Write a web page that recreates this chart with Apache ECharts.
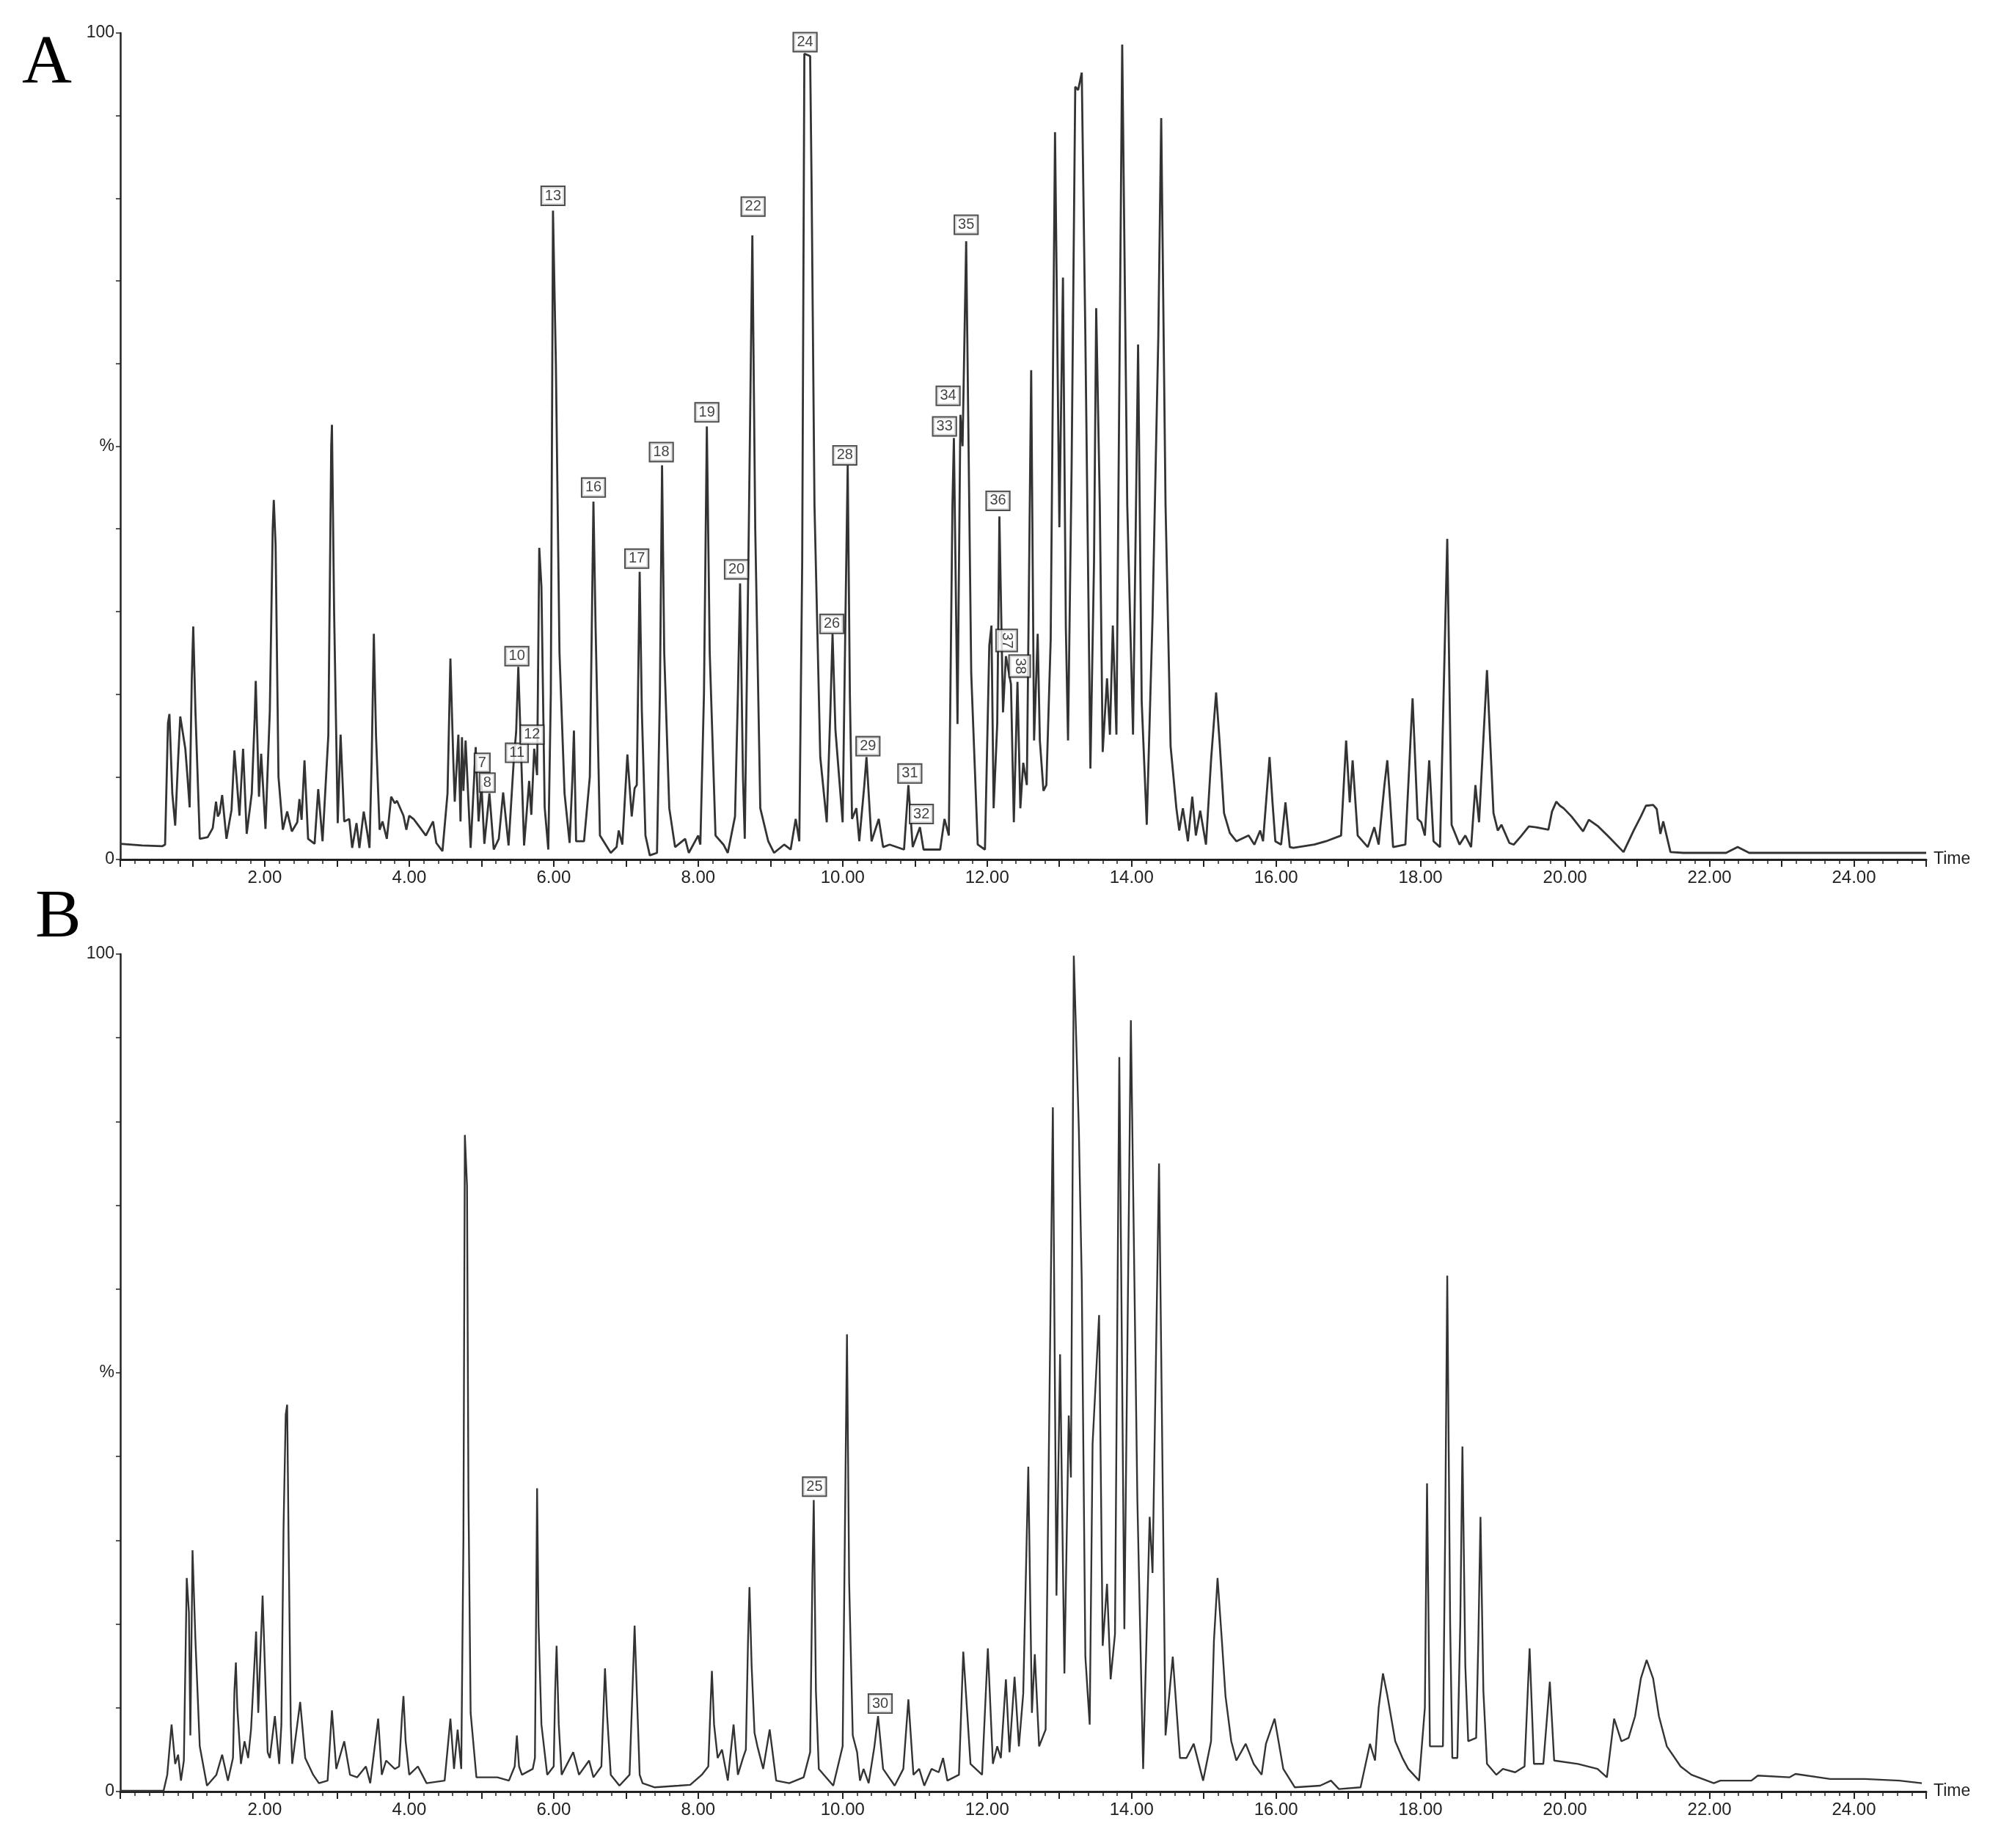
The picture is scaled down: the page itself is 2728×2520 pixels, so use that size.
<!DOCTYPE html>
<html>
<head>
<meta charset="utf-8">
<script src="https://cdn.jsdelivr.net/npm/echarts@6/dist/echarts.min.js"></script>
<style>
html,body{margin:0;padding:0;background:#fff;}
#chart{width:2728px;height:2520px;}
</style>
</head>
<body>
<div id="chart"></div>
<script>
// ---- Data (time in min, relative intensity in %) ----
const traceA = [
[0.0,1.9],[0.3,1.7],[0.58,1.6],[0.62,1.8],[0.66,16.5],[0.68,17.6],[0.72,8],[0.76,4.1],[0.8,12],[0.83,17.3],
[0.9,13.4],[0.93,10],[0.96,6.3],[0.99,22],[1.01,28.2],[1.04,18],[1.1,2.5],[1.21,2.7],[1.28,3.8],[1.325,7],
[1.35,5.2],[1.375,5.6],[1.41,7.8],[1.47,2.5],[1.54,6],[1.58,13.2],[1.65,5.3],[1.7,13.4],[1.75,3.1],[1.82,8],
[1.86,17],[1.875,21.6],[1.92,7.6],[1.95,12.8],[2.01,3.7],[2.07,18],[2.11,40],[2.125,43.5],[2.15,38],[2.19,10],
[2.25,3.6],[2.31,5.8],[2.375,3.4],[2.45,4.5],[2.48,7.3],[2.51,4.8],[2.55,12],[2.6,2.5],[2.69,1.9],[2.74,8.5],
[2.8,2.2],[2.88,15],[2.92,50],[2.93,52.6],[2.96,30],[3.01,4.4],[3.05,15.1],[3.1,4.6],[3.17,4.9],[3.21,1.4],
[3.27,4.4],[3.31,1.4],[3.37,5.8],[3.42,3.2],[3.45,1.4],[3.48,12],[3.51,27.3],[3.54,15],[3.59,3.6],[3.63,4.6],
[3.69,2.5],[3.75,7.6],[3.8,6.8],[3.83,7.1],[3.92,5.3],[3.96,3.6],[4.0,5.3],[4.06,4.9],[4.12,4.2],[4.23,2.9],
[4.33,4.6],[4.375,2.0],[4.46,1.0],[4.53,8],[4.57,24.3],[4.61,12],[4.63,7],[4.68,15.1],[4.71,4.6],[4.73,14.8],
[4.75,8.3],[4.78,14.4],[4.85,1.4],[4.92,13.6],[4.96,4.6],[5.0,9],[5.04,1.9],[5.11,8],[5.17,1.2],[5.24,2.5],
[5.30,8.1],[5.375,1.7],[5.45,12.4],[5.48,15.4],[5.51,23.3],[5.56,9.7],[5.59,1.7],[5.66,9.5],[5.69,5.4],[5.73,13.4],
[5.77,10.2],[5.80,37.7],[5.83,33],[5.875,6.3],[5.925,1.2],[5.96,20],[5.99,78.5],[6.03,60],[6.08,25],[6.15,8],
[6.22,2],[6.26,10],[6.28,15.6],[6.31,2.2],[6.42,2.2],[6.5,10],[6.55,43.3],[6.58,28],[6.64,2.9],[6.79,0.8],
[6.87,1.5],[6.9,3.5],[6.95,1.8],[7.02,12.7],[7.08,5.2],[7.12,8.6],[7.15,9],[7.19,34.8],[7.22,18],[7.27,2.9],
[7.33,0.5],[7.43,0.8],[7.47,20],[7.5,47.7],[7.53,25],[7.6,6.2],[7.68,1.5],[7.82,2.5],[7.87,0.8],[8.0,2.9],
[8.03,1.8],[8.08,20],[8.12,52.4],[8.16,25],[8.24,2.9],[8.35,1.8],[8.41,0.8],[8.51,5.2],[8.55,20],[8.58,33.4],
[8.62,10],[8.645,2.5],[8.7,39.5],[8.75,75.5],[8.79,40],[8.86,6.2],[8.97,2.2],[9.05,0.8],[9.19,1.8],[9.28,1.2],
[9.35,4.9],[9.4,2.2],[9.44,36],[9.47,97.5],[9.55,97.2],[9.57,81.6],[9.61,42.9],[9.69,12.4],[9.78,4.5],[9.83,18],
[9.86,27.3],[9.9,15.7],[10.0,4.5],[10.04,30],[10.07,47.7],[10.1,20],[10.13,4.9],[10.19,6.2],[10.23,2.2],[10.3,9],
[10.33,12.4],[10.4,2.2],[10.5,4.9],[10.56,1.5],[10.65,1.8],[10.85,1.2],[10.91,9],[10.97,1.5],[11.07,3.9],[11.12,1.2],
[11.35,1.2],[11.41,4.9],[11.47,2.9],[11.52,42.9],[11.54,51],[11.59,16.4],[11.63,53.8],[11.66,50],[11.71,74.8],[11.78,22.5],
[11.87,1.8],[11.97,1.2],[12.03,25.9],[12.06,28.3],[12.09,6.2],[12.14,16.4],[12.17,41.5],[12.22,17.8],[12.26,24.6],[12.33,21.2],
[12.37,4.5],[12.42,21.5],[12.46,6.2],[12.5,11.7],[12.55,9],[12.61,59.2],[12.65,14.4],[12.7,27.3],[12.73,14.4],[12.78,8.3],
[12.82,9],[12.88,26.6],[12.94,88],[13.0,40.2],[13.05,70.4],[13.09,28],[13.12,14.4],[13.17,47.7],[13.22,93.5],[13.26,93.1],
[13.31,95.2],[13.36,63.3],[13.43,11],[13.48,36.1],[13.51,66.7],[13.56,42.9],[13.6,13],[13.66,21.9],[13.7,15.1],[13.74,28.3],
[13.79,15.1],[13.87,98.6],[13.94,42.9],[14.02,15.1],[14.09,62.3],[14.14,19.1],[14.21,4.2],[14.29,29.3],[14.37,63.3],[14.41,89.7],
[14.47,42.9],[14.54,13.7],[14.62,6.2],[14.66,3.5],[14.71,6.2],[14.78,2.2],[14.84,7.6],[14.89,2.9],[14.95,5.9],[15.03,1.8],
[15.1,12],[15.17,20.2],[15.22,14],[15.28,5.6],[15.36,3.2],[15.45,2.2],[15.62,2.9],[15.7,1.8],[15.78,3.5],[15.82,2.2],
[15.88,9],[15.91,12.4],[15.95,7],[15.99,2.2],[16.07,1.8],[16.13,6.9],[16.19,1.5],[16.24,1.4],[16.53,1.8],[16.69,2.2],
[16.9,2.9],[16.97,14.4],[17.02,6.9],[17.06,12],[17.13,2.9],[17.27,1.5],[17.36,3.9],[17.42,1.8],[17.5,9],[17.54,12],
[17.58,7],[17.62,1.5],[17.79,1.8],[17.89,19.5],[17.96,4.9],[18.01,4.5],[18.06,2.9],[18.12,12],[18.18,2.2],[18.27,1.5],
[18.37,38.8],[18.43,4.2],[18.54,1.8],[18.62,2.9],[18.7,1.5],[18.76,9],[18.81,4.5],[18.92,22.9],[19.01,5.6],[19.07,3.5],
[19.12,4.2],[19.23,2],[19.29,1.8],[19.39,2.8],[19.5,4],[19.6,3.9],[19.77,3.6],[19.82,5.8],[19.88,7],[19.93,6.5],
[19.98,6.2],[20.09,5.2],[20.25,3.4],[20.33,4.8],[20.46,4],[20.6,2.8],[20.81,0.9],[20.95,3.5],[21.05,5.2],[21.12,6.5],
[21.22,6.6],[21.27,6.1],[21.32,3.1],[21.36,4.6],[21.46,0.9],[21.64,0.8],[22.23,0.8],[22.39,1.5],[22.55,0.8],[25.0,0.8]
];

const traceB = [
[0,0.1],[0.6,0.1],[0.65,2],[0.71,8],[0.76,3.3],[0.8,4.4],[0.84,1.3],[0.88,3.7],[0.92,25.5],[0.95,21.4],
[0.97,6.7],[1.0,28.8],[1.04,18.1],[1.1,5.4],[1.2,0.7],[1.33,2],[1.41,4.4],[1.49,1.3],[1.56,4],[1.58,12],
[1.6,15.4],[1.62,10],[1.67,3.3],[1.72,6],[1.77,4],[1.81,7.4],[1.88,19.1],[1.91,9.4],[1.97,23.4],[2.04,4.7],
[2.07,4],[2.14,9],[2.2,3.3],[2.23,8],[2.26,31.5],[2.29,45],[2.31,46.2],[2.33,30],[2.36,8],[2.38,3.3],
[2.49,10.7],[2.56,4],[2.67,2],[2.75,1],[2.87,1.3],[2.93,9.7],[2.99,2.7],[3.1,6],[3.18,2],[3.28,1.7],
[3.4,3],[3.46,1],[3.57,8.7],[3.62,2],[3.68,3.7],[3.8,2.7],[3.86,3],[3.9,9],[3.92,11.4],[3.95,6],
[4.0,2],[4.12,3],[4.24,1],[4.49,1.3],[4.57,8.7],[4.62,2.7],[4.67,7.4],[4.72,2.7],[4.75,30],[4.77,78.4],
[4.8,72.3],[4.82,35],[4.85,9.4],[4.93,1.7],[5.22,1.7],[5.38,1.3],[5.46,3],[5.49,6.7],[5.52,3],[5.56,2],
[5.71,2.7],[5.74,4],[5.76,25],[5.77,36.2],[5.79,20],[5.83,8],[5.91,2],[6.0,3],[6.02,12],[6.04,17.4],
[6.07,8],[6.11,2],[6.27,4.7],[6.35,2],[6.49,3.7],[6.55,1.7],[6.66,3],[6.69,10],[6.71,14.7],[6.74,9],
[6.79,2],[6.91,0.7],[7.05,2],[7.09,12],[7.12,19.8],[7.15,12],[7.19,2],[7.23,1],[7.4,0.5],[7.73,0.7],
[7.89,0.8],[8.05,2],[8.14,3],[8.17,10],[8.19,14.4],[8.22,8],[8.27,4],[8.33,5],[8.41,1.3],[8.49,8],
[8.55,2],[8.62,4],[8.66,5],[8.69,18],[8.71,24.4],[8.74,15],[8.78,7],[8.82,5.4],[8.9,2.7],[8.99,7.4],
[9.08,1.3],[9.26,1],[9.46,1.7],[9.55,4.7],[9.58,25],[9.6,34.8],[9.63,12],[9.67,2.7],[9.87,0.7],[10.0,5.4],
[10.03,30],[10.06,54.6],[10.09,25],[10.14,6.7],[10.2,4.7],[10.24,1.3],[10.29,2.7],[10.36,1],[10.44,5.4],[10.49,9],
[10.56,2.7],[10.72,0.7],[10.84,2.7],[10.91,11],[10.98,2],[11.06,2.7],[11.13,0.7],[11.23,2.7],[11.33,2.3],[11.39,4],
[11.45,1.3],[11.61,2],[11.67,16.7],[11.77,3.3],[11.93,2],[12.01,17.1],[12.08,3.3],[12.14,5.4],[12.19,4],[12.26,13.4],
[12.31,4.7],[12.38,13.7],[12.44,5.4],[12.5,11.7],[12.57,38.8],[12.62,9.4],[12.66,16.4],[12.72,5.4],[12.81,7.4],[12.91,81.7],
[12.96,23.4],[13.01,52.2],[13.07,14.1],[13.13,44.9],[13.16,37.5],[13.2,99.8],[13.27,79],[13.31,61],[13.36,16.1],[13.42,8],
[13.46,41.5],[13.55,56.9],[13.6,17.4],[13.66,24.8],[13.71,13.4],[13.77,18.8],[13.83,87.7],[13.9,19.4],[13.99,92.1],[14.08,34.8],
[14.16,2.7],[14.25,32.8],[14.29,26.1],[14.38,75],[14.47,6.7],[14.57,16.1],[14.67,4],[14.76,4],[14.86,5.7],[14.99,1.3],
[15.1,6],[15.14,18],[15.19,25.5],[15.25,18],[15.3,11.4],[15.38,6],[15.45,3.7],[15.58,5.7],[15.69,3.3],[15.8,2],
[15.86,5.7],[15.98,8.7],[16.1,2.7],[16.26,0.5],[16.61,0.7],[16.76,1.3],[16.87,0.3],[17.17,0.5],[17.3,5.7],[17.37,3.7],
[17.42,10],[17.48,14.1],[17.54,11.5],[17.65,6],[17.75,4],[17.83,2.7],[17.98,1.3],[18.06,10],[18.09,36.8],[18.13,5.4],
[18.31,5.4],[18.34,30],[18.37,61.6],[18.41,20],[18.44,4],[18.51,4],[18.55,20],[18.58,41.2],[18.62,15],[18.66,6],
[18.77,6.4],[18.8,18],[18.83,32.8],[18.87,12],[18.92,3.3],[19.05,2],[19.14,2.7],[19.31,2.3],[19.44,3],[19.51,17.1],
[19.57,3.3],[19.7,3.3],[19.79,13.1],[19.85,3.7],[20.18,3.3],[20.45,2.7],[20.58,1.7],[20.68,8.7],[20.78,6],[20.88,6.4],
[20.97,9],[21.05,13.5],[21.13,15.7],[21.22,13.5],[21.3,9],[21.41,5.4],[21.6,3],[21.75,2],[22.06,1],[22.15,1.3],
[22.58,1.3],[22.67,1.9],[23.11,1.7],[23.19,2.1],[23.67,1.5],[24.15,1.5],[24.63,1.3],[24.94,1]
];

// peak annotation boxes: [time, intensity, number]
const labelsA = [
[5.01,11.7,'7'],[5.08,9.3,'8'],[5.49,24.6,'10'],[5.49,12.9,'11'],[5.70,15.1,'12'],[5.99,80.3,'13'],
[6.55,45,'16'],[7.15,36.4,'17'],[7.49,49.3,'18'],[8.12,54.1,'19'],[8.53,35.1,'20'],[8.76,79,'22'],
[9.48,98.9,'24'],[9.85,28.5,'26'],[10.03,48.9,'28'],[10.35,13.7,'29'],[10.93,10.4,'31'],[11.09,5.5,'32'],
[11.41,52.4,'33'],[11.46,56.1,'34'],[11.71,76.8,'35'],[12.15,43.4,'36'],[12.27,26.5,'37'],[12.45,23.4,'38']
];
const labelsB = [[9.61,36.4,'25'],[10.52,10.5,'30']];
const rotatedLabels = ['37','38'];

const xTickLabels = ['2.00','4.00','6.00','8.00','10.00','12.00','14.00','16.00','18.00','20.00','22.00','24.00'];
const yTickLabels = {0:'0',50:'%',100:'100'};
const panelLetters = ['A','B'];

// ---- Chart ----
const chart = echarts.init(document.getElementById('chart'), null, {renderer:'canvas'});
const ink = '#222';
const font = 'Liberation Sans, Arial, sans-serif';

function xAxisDef(gi){
  return {
    gridIndex: gi, type:'value', min:0, max:25, interval:1,
    name:'Time', nameLocation:'end', nameGap:10,
    nameTextStyle:{color:ink, fontSize:23, fontFamily:font, verticalAlign:'middle'},
    axisLine:{show:true, onZero:false, lineStyle:{color:ink, width:3}},
    axisTick:{show:true, length:10, lineStyle:{color:ink, width:2}},
    minorTick:{show:true, splitNumber:5, length:6, lineStyle:{color:ink, width:1.5}},
    splitLine:{show:false},
    axisLabel:{color:ink, fontSize:24, fontFamily:font, margin:13,
      formatter:function(v){ const s=v.toFixed(2); return xTickLabels.indexOf(s)>=0 ? s : ''; }}
  };
}
function yAxisDef(gi){
  return {
    gridIndex: gi, type:'value', min:0, max:100, interval:10,
    axisLine:{show:true, lineStyle:{color:ink, width:2.5}},
    axisTick:{show:true, length:6, lineStyle:{color:ink, width:1.5}},
    splitLine:{show:false},
    axisLabel:{color:ink, fontSize:23, fontFamily:font, margin:8,
      formatter:function(v){ return yTickLabels[v] !== undefined ? yTickLabels[v] : ''; }}
  };
}
function labelSeries(arr, xi){
  return {
    type:'scatter', xAxisIndex:xi, yAxisIndex:xi, symbolSize:1, symbol:'rect',
    itemStyle:{color:'rgba(0,0,0,0)'}, z:10, silent:true,
    data: arr.map(function(d){
      const item = {value:[d[0], d[1]], name:d[2]};
      if (rotatedLabels.indexOf(d[2])>=0) item.label = {rotate:-90, padding:[3,3,3,3]};
      return item;
    }),
    label:{show:true, position:'inside', formatter:'{b}', color:'#111', fontSize:20, fontFamily:font,
      backgroundColor:'#fff', borderColor:'#222', borderWidth:2, padding:[2,4,1,4], lineHeight:21}
  };
}

chart.setOption({
  animation:false,
  backgroundColor:'#fff',
  grid:[
    {left:164, top:45, width:2462, height:1127},
    {left:164, top:1301, width:2462, height:1142}
  ],
  xAxis:[xAxisDef(0), xAxisDef(1)],
  yAxis:[yAxisDef(0), yAxisDef(1)],
  graphic:[
    {type:'text', left:30, top:40, style:{text:panelLetters[0], font:'94px "Liberation Serif", serif', fill:'#000'}},
    {type:'text', left:48, top:1205, style:{text:panelLetters[1], font:'94px "Liberation Serif", serif', fill:'#000'}}
  ],
  series:[
    {type:'line', xAxisIndex:0, yAxisIndex:0, data:traceA, showSymbol:false, symbol:'none',
      lineStyle:{color:'#333', width:2.8}, silent:true},
    {type:'line', xAxisIndex:1, yAxisIndex:1, data:traceB, showSymbol:false, symbol:'none',
      lineStyle:{color:'#333', width:2.4}, silent:true},
    labelSeries(labelsA, 0),
    labelSeries(labelsB, 1)
  ]
});
</script>
</body>
</html>
